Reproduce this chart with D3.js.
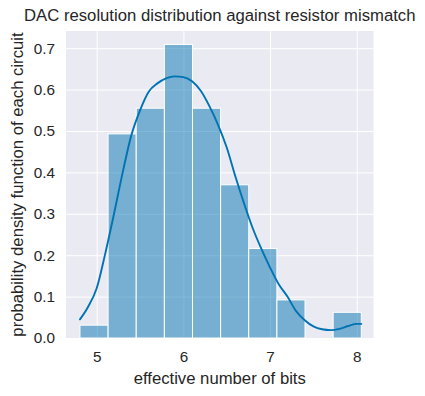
<!DOCTYPE html>
<html><head><meta charset="utf-8">
<script src="https://cdn.jsdelivr.net/npm/d3@7"></script>
<style>body{margin:0;background:#fff}svg{display:block}text{font-family:"Liberation Sans",Arial,sans-serif;fill:#262626}</style>
</head><body>
<script>
const binStart = 4.807;
const binWidth = 0.3245;
const densities = [0.031, 0.493, 0.555, 0.709, 0.555, 0.370, 0.216, 0.092, 0, 0.062];
const kdeX = [4.807,4.90,5.00,5.10,5.20,5.30,5.40,5.50,5.60,5.70,5.80,5.90,6.00,6.10,6.20,6.30,6.40,6.50,6.60,6.70,6.80,6.90,7.00,7.10,7.20,7.30,7.40,7.50,7.60,7.70,7.80,7.90,8.00,8.052];
const kdeY = [0.045,0.075,0.12,0.205,0.30,0.40,0.49,0.55,0.595,0.615,0.627,0.632,0.630,0.620,0.597,0.56,0.515,0.46,0.39,0.325,0.265,0.215,0.17,0.13,0.10,0.065,0.043,0.028,0.021,0.019,0.022,0.029,0.034,0.034];
const xTicks = [5, 6, 7, 8];
const yTicks = [0.0, 0.1, 0.2, 0.3, 0.4, 0.5, 0.6, 0.7];
const titleText = "DAC resolution distribution against resistor mismatch";
const xLabel = "effective number of bits";
const yLabel = "probability density function of each circuit";

const W = 425, H = 396;
const L = 66, R = 373.5, T = 31, B = 338;
const svg = d3.select("body").append("svg").attr("width", W).attr("height", H);
const x = d3.scaleLinear().domain([4.646, 8.193]).range([L, R]);
const y = d3.scaleLinear().domain([0, 0.7415]).range([B, T]);

svg.append("rect").attr("x", L).attr("y", T).attr("width", R - L).attr("height", B - T).attr("fill", "#eaeaf2");

const gx = svg.append("g").attr("transform", `translate(0,${B})`)
  .call(d3.axisBottom(x).tickValues(xTicks).tickFormat(d3.format("d")).tickSize(-(B - T)).tickPadding(13));
const gy = svg.append("g").attr("transform", `translate(${L},0)`)
  .call(d3.axisLeft(y).tickValues(yTicks).tickFormat(d3.format(".1f")).tickSize(-(R - L)).tickPadding(11));
[gx, gy].forEach(g => {
  g.select(".domain").remove();
  g.selectAll(".tick line").attr("stroke", "#fff").attr("stroke-width", 1);
  g.selectAll(".tick text").style("font-size", "15.3px").attr("fill", "#262626");
});

const bins = densities.map((d, i) => ({x0: binStart + i * binWidth, x1: binStart + (i + 1) * binWidth, d}));
svg.append("g").selectAll("rect").data(bins.filter(b => b.d > 0)).join("rect")
  .attr("x", b => x(b.x0)).attr("width", b => x(b.x1) - x(b.x0))
  .attr("y", b => y(b.d)).attr("height", b => y(0) - y(b.d))
  .attr("fill", "rgba(1,115,178,0.5)").attr("stroke", "#fff").attr("stroke-width", 1);

const pts = kdeX.map((v, i) => [v, kdeY[i]]);
svg.append("path").datum(pts)
  .attr("d", d3.line().x(d => x(d[0])).y(d => y(d[1])).curve(d3.curveMonotoneX))
  .attr("fill", "none").attr("stroke", "#0173b2").attr("stroke-width", 1.9)
  .attr("stroke-linecap", "round");

svg.append("text").attr("x", (L + R) / 2).attr("y", 21).attr("text-anchor", "middle")
  .style("font-size", "16.7px").text(titleText);
svg.append("text").attr("x", (L + R) / 2).attr("y", 384).attr("text-anchor", "middle")
  .style("font-size", "16.7px").text(xLabel);
svg.append("text").attr("transform", `translate(23,${(T + B) / 2}) rotate(-90)`).attr("text-anchor", "middle")
  .style("font-size", "16.7px").text(yLabel);
</script>
</body></html>
